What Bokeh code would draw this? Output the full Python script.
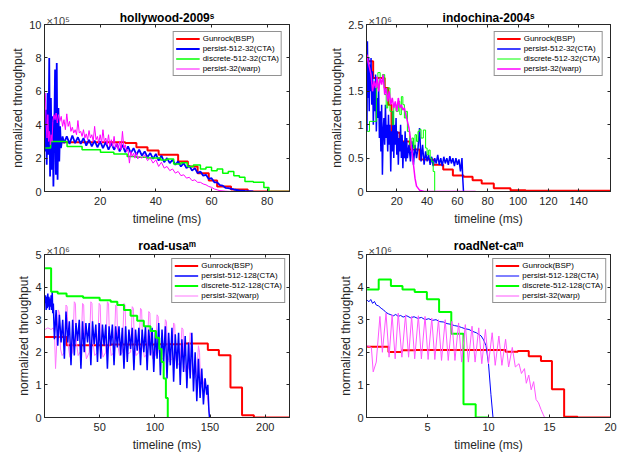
from bokeh.plotting import figure
from bokeh.models import Range1d, LinearAxis, Legend, LegendItem, Label
from bokeh.layouts import gridplot
from bokeh.embed import file_html
from bokeh.resources import INLINE

FONT = "Liberation Sans"
AX = "#262626"

# ---------------- hollywood-2009 (x1e5) ----------------
hw_xticks = [20, 40, 60, 80]
hw_yticks = [0, 2, 4, 6, 8, 10]
hw_ylabels = ["0", "2", "4", "6", "8", "10"]
hw_red_x = [0.3, 29, 33, 37, 41, 48, 51.5, 55, 59, 62, 67, 73, 88]
hw_red_y = [2.95, 2.9, 2.65, 2.45, 2.2, 1.8, 1.5, 1.1, 0.66, 0.3, 0.12, 0.0, 0.0]
hw_blue_x = [0.2, 0.5, 0.8, 1.1, 1.4, 1.7, 2.0, 2.3, 2.6, 2.9, 3.2, 3.5, 3.8, 4.1, 4.4, 4.7, 5.0, 5.3, 5.6, 5.9,
             6.5, 7, 8, 9, 10, 11, 12, 13, 14, 15, 16, 17, 18, 19, 20, 21, 22, 23, 24, 25, 26, 27, 28, 29, 30,
             31, 32, 33, 34, 35, 36, 37, 38, 39, 40, 41, 42, 43, 44, 45, 46, 47, 48, 49, 50, 51, 52, 53, 54, 55,
             56, 57, 58, 59, 60, 61, 62, 63, 64, 65, 66, 68, 70, 72, 75]
hw_blue_y = [2.4, 4.9, 1.6, 5.9, 2.2, 8.0, 0.9, 5.6, 1.3, 4.5, 0.3, 3.6, 7.3, 1.0, 7.7, 0.7, 5.0, 1.8, 3.9, 2.6,
             3.3, 2.9, 3.3, 2.85, 3.35, 2.9, 3.25, 2.85, 3.2, 2.75, 3.1, 2.7, 3.05, 2.65, 3.0, 2.6, 2.95, 2.5, 2.9,
             2.5, 2.85, 2.4, 2.8, 2.35, 2.7, 2.3, 2.6, 2.2, 2.5, 2.15, 2.4, 2.05, 2.3, 1.95, 2.25, 1.85, 2.15, 1.75,
             2.0, 1.7, 1.9, 1.6, 1.8, 1.5, 1.7, 1.4, 1.55, 1.25, 1.4, 1.1, 1.2, 0.95, 1.0, 0.75, 0.8, 0.55, 0.55,
             0.38, 0.35, 0.22, 0.2, 0.12, 0.06, 0.03, 0.0]
hw_green_x = [0.3, 2.2, 8.1, 13.5, 20.1, 24.9, 29.7, 33.0, 36.9, 41.7, 44.0, 46.4, 49.0, 51.3, 53.5, 56.0, 58.0,
              60.0, 62.0, 64.0, 66.0, 68.0, 70.0, 72.0, 75.0, 78.8, 80.6, 88.0]
hw_green_y = [2.6, 3.0, 2.7, 2.5, 2.35, 2.25, 2.1, 2.05, 2.0, 1.88, 1.95, 1.64, 1.72, 1.5, 1.58, 1.35, 1.45,
              1.25, 1.35, 1.1, 1.2, 0.95, 0.85, 0.6, 0.55, 0.24, 0.0, 0.0]
hw_mag_x = [0.3, 0.6, 0.9, 1.2, 1.5, 1.8, 2.1, 2.4, 2.7, 3.0, 3.4, 3.8, 4.2, 4.6, 5.0, 5.5, 6.0, 6.5, 7.0, 7.5,
            8.0, 8.5, 9.0, 9.5, 10, 10.5, 11, 11.5, 12, 12.5, 13, 13.5, 14, 14.5, 15, 15.5, 16, 16.5, 17, 17.5,
            18, 18.5, 19, 19.5, 20, 20.5, 21, 21.5, 22, 22.5, 23, 23.5, 24, 24.5, 25, 25.5, 26, 26.5, 27, 27.5,
            28, 28.5, 29, 29.5, 30, 30.5, 31, 31.5, 32, 32.5, 33, 33.5, 34, 35, 36, 37, 38, 39, 40, 41, 42, 43,
            44, 45, 46, 47, 48, 49, 50, 51, 52, 53, 54, 55, 56, 57, 58, 59, 60, 61, 62, 63, 65, 67]
hw_mag_y = [5.9, 4.0, 3.2, 4.6, 3.0, 3.6, 2.8, 3.4, 3.0, 4.2, 4.6, 4.3, 4.7, 4.1, 4.6, 4.2, 4.5, 3.9, 4.3, 3.7,
            4.65, 3.9, 4.2, 3.6, 3.85, 3.5, 3.7, 3.4, 4.25, 3.5, 3.6, 3.3, 3.7, 3.2, 3.45, 3.1, 3.65, 3.2, 3.4,
            3.0, 3.9, 3.1, 3.3, 2.9, 3.4, 2.9, 3.7, 2.95, 3.2, 2.8, 3.4, 2.7, 3.1, 2.7, 3.3, 2.6, 2.9, 2.5, 3.0,
            2.5, 3.6, 2.6, 2.8, 2.4, 2.5, 1.7, 2.4, 2.1, 2.3, 2.0, 2.35, 1.95, 2.1, 2.0, 2.2, 1.85, 2.0, 1.7, 1.9,
            1.5, 1.75, 1.4, 1.5, 1.25, 1.35, 1.1, 1.2, 0.95, 1.0, 0.8, 0.85, 0.65, 0.7, 0.55, 0.55, 0.45, 0.4,
            0.3, 0.25, 0.15, 0.1, 0.05, 0.02, 0.0]

# ---------------- indochina-2004 (x1e6) ----------------
ic_xticks = [20, 40, 60, 80, 100, 120, 140]
ic_yticks = [0, 0.5, 1, 1.5, 2, 2.5]
ic_ylabels = ["0", "0.5", "1", "1.5", "2", "2.5"]
ic_red_x = [0.5, 4.4, 12, 14.3, 16.5, 22, 28.6, 35, 44, 50.6, 57, 64, 70, 76, 84, 95, 105, 161]
ic_red_y = [1.95, 1.7, 1.55, 1.30, 0.88, 0.75, 0.63, 0.48, 0.40, 0.33, 0.24, 0.22, 0.17, 0.12, 0.05, 0.02,
            0.01, 0.01]
ic_blue_x = [0.3, 0.6, 1.0, 1.4, 1.8, 2.2, 2.6, 3.0, 3.5, 4.0, 4.5, 5.0, 5.5, 6.0, 6.5, 7.0, 7.5, 8.0, 8.5, 9.0,
             9.5, 10.0, 10.5, 11.0, 11.5, 12.0, 12.5, 13.0, 13.5, 14.0, 14.5, 15.0, 15.5, 16.0, 16.5, 17.0, 17.5,
             18.0, 18.5, 19.0, 19.5, 20.0, 20.5, 21.0, 21.5, 22.0, 22.5, 23.0, 23.5, 24.0, 24.5, 25.0, 25.5,
             26.0, 26.5, 27.0, 28, 29, 30, 31, 32, 33, 34, 35, 36, 37, 38, 39, 40, 41, 42, 43, 44, 45, 46, 47,
             48, 49, 50, 51, 52, 53, 54, 55, 56, 57, 58, 59, 60, 61, 62, 63, 63.5, 64]
ic_blue_y = [0.9, 2.25, 1.4, 2.0, 1.2, 1.9, 1.5, 2.0, 1.3, 1.8, 1.0, 1.6, 1.2, 1.75, 0.9, 1.4, 1.1, 1.6, 0.8, 1.2,
             0.6, 1.3, 0.25, 0.9, 1.1, 0.7, 1.3, 0.8, 1.0, 0.6, 1.15, 0.7, 1.0, 0.3, 0.9, 0.6, 1.2, 0.5, 1.0, 0.7,
             1.1, 0.55, 0.9, 0.4, 0.8, 0.6, 1.0, 0.5, 0.85, 0.35, 0.75, 0.5, 0.9, 0.45, 0.8, 0.5, 0.7, 0.45,
             0.75, 0.4, 0.7, 0.5, 0.65, 0.95, 0.45, 0.7, 0.4, 0.6, 0.45, 0.55, 0.4, 0.52, 0.38, 0.5, 0.42, 0.55,
             0.4, 0.5, 0.38, 0.52, 0.42, 0.5, 0.4, 0.53, 0.42, 0.5, 0.38, 0.5, 0.4, 0.48, 0.3, 0.5, 0.2, 0.0]
ic_green_x = [0.5, 2, 6.5, 7.5, 9, 10.5, 12, 13, 14, 15.5, 17, 18, 19.5, 21, 22, 23, 24, 25, 26, 27, 28.5, 30,
              31, 32, 33, 34, 35, 36, 37.5, 39, 40, 41, 42, 43, 44, 45]
ic_green_y = [0.9, 1.05, 1.55, 1.78, 1.65, 1.75, 1.45, 1.25, 1.55, 1.2, 1.0, 1.3, 1.2, 1.35, 1.15, 1.42, 1.3,
              1.1, 1.2, 0.9, 0.7, 0.8, 0.65, 0.85, 0.75, 0.9, 0.93, 0.8, 0.92, 0.65, 0.55, 0.62, 0.5, 0.45, 0.3,
              0.0]
ic_mag_x = [0.3, 1, 2, 3, 4, 5, 6, 7, 8, 9, 10, 11, 12, 13, 14, 15, 16, 17, 18, 19, 20, 21, 22, 23, 24, 25, 26,
            27, 28, 29, 30, 31, 32, 33, 35, 38, 45, 55, 65, 72]
ic_mag_y = [2.05, 1.95, 1.85, 1.75, 1.5, 1.65, 1.55, 1.72, 1.5, 1.7, 1.6, 1.75, 1.45, 1.55, 1.35, 1.5, 1.3, 1.4,
            1.25, 1.35, 1.2, 1.4, 1.25, 1.3, 1.22, 1.25, 1.15, 1.05, 0.95, 0.8, 0.6, 0.4, 0.2, 0.08, 0.02, 0.0,
            0.0, 0.0, 0.0, 0.0]

# ---------------- road-usa (x1e6) ----------------
ru_xticks = [50, 100, 150, 200]
ru_yticks = [0, 1, 2, 3, 4, 5]
ru_ylabels = ["0", "1", "2", "3", "4", "5"]
ru_red_x = [0.5, 20, 60, 100, 127, 148, 158, 168.5, 179, 189.7, 222]
ru_red_y = [2.47, 2.22, 2.24, 2.25, 2.27, 2.07, 1.91, 0.92, 0.07, 0.0, 0.0]
ru_green_x = [0.5, 5.4, 6, 12, 20, 35, 50, 60, 66, 72, 78, 84, 90, 96, 101, 104, 106, 108, 110, 111.7]
ru_green_y = [4.58, 4.58, 3.86, 3.8, 3.72, 3.67, 3.6, 3.55, 3.45, 3.3, 3.12, 2.97, 2.8, 2.65, 2.45, 2.1, 1.7,
              1.2, 0.6, 0.0]
ru_blue_x = [0.5, 1.0, 1.5, 2.0, 2.5, 3.0, 3.5, 4.0, 4.5, 5.0, 5.5, 6.0, 6.5, 7.0, 7.5, 8.0, 9, 10.5, 12, 13.5,
             15, 16.5, 18, 19.5, 21, 22.5, 24, 25.5, 27, 28.5, 30, 31.5, 33, 34.5, 36, 37.5, 39, 40.5, 42, 43.5,
             45, 46.5, 48, 49.5, 51, 52.5, 54, 55.5, 57, 58.5, 60, 61.5, 63, 64.5, 66, 67.5, 69, 70.5, 72, 73.5,
             75, 76.5, 78, 79.5, 81, 82.5, 84, 85.5, 87, 88.5, 90, 91.5, 93, 94.5, 96, 97.5, 99, 100.5, 102,
             103.5, 105, 106.5, 108, 109.5, 111, 112.5, 114, 115.5, 117, 118.5, 120, 121.5, 123, 124.5, 126,
             127.5, 129, 130.5, 132, 133.5, 135, 136.5, 138, 139.5, 141, 142.5, 144, 145.5, 147, 148, 149, 149.5]
ru_blue_y = [3.5, 3.75, 3.3, 3.7, 3.35, 3.8, 3.4, 3.7, 3.3, 3.65, 3.4, 3.75, 3.3, 3.85, 3.2, 3.5, 2.4, 3.3, 2.2,
             3.15, 2.3, 3.0, 1.8, 3.25, 2.3, 2.95, 1.6, 3.0, 1.9, 2.9, 2.35, 3.0, 1.5, 2.95, 2.0, 2.9, 2.3, 2.9,
             1.6, 2.95, 2.25, 2.85, 1.7, 2.9, 1.8, 2.85, 2.2, 2.85, 1.5, 2.8, 2.2, 2.85, 1.6, 2.8, 2.15, 2.8, 1.9,
             2.75, 1.5, 2.8, 1.7, 2.7, 2.1, 2.75, 1.45, 2.7, 2.05, 2.75, 1.6, 2.7, 2.0, 2.8, 1.45, 2.7, 1.9, 2.75,
             1.4, 2.65, 1.8, 2.9, 1.3, 2.7, 1.7, 2.8, 1.2, 2.6, 1.6, 2.75, 1.1, 2.55, 1.5, 2.6, 1.0, 2.4, 1.4,
             2.5, 0.9, 2.3, 1.2, 2.6, 0.8, 2.0, 0.5, 1.8, 0.6, 1.5, 0.4, 1.2, 0.7, 1.0, 0.2, 0.0]
ru_mag_x = [0.5, 3, 6, 8, 9, 10, 11, 12.5, 13.5, 14.5, 16, 18, 19.5, 20.5, 21.5, 23, 25.5, 27, 28, 29, 30.5, 33,
            34.5, 35.5, 36.5, 38, 40.5, 42, 43, 44, 45.5, 48, 49.5, 50.5, 51.5, 53, 55.5, 57, 58, 59, 60.5, 63,
            64.5, 65.5, 66.5, 68, 70.5, 72, 73, 74, 75.5, 78, 79.5, 80.5, 81.5, 83, 85.5, 87, 88, 89, 90.5, 93,
            94.5, 95.5, 96.5, 98, 100.5, 102, 103, 104, 105.5, 108, 109.5, 110.5, 111.5, 113, 115.5, 117, 118,
            119, 120.5, 123, 124.5, 125.5, 126.5, 128, 130.5, 132, 133, 134, 135.5, 138, 139.5, 140.5, 141.5,
            143, 145, 146.5, 148, 149.5, 150]
ru_mag_y = [2.7, 2.75, 2.7, 2.75, 2.6, 1.5, 2.2, 3.3, 3.2, 2.1, 1.9, 2.0, 3.45, 3.4, 2.2, 1.85, 2.0, 3.55, 3.5,
            2.3, 1.9, 2.05, 3.5, 3.45, 2.2, 1.8, 2.0, 3.55, 3.5, 2.3, 1.9, 2.0, 3.5, 3.45, 2.2, 1.85, 2.0, 3.55,
            3.5, 2.3, 1.9, 2.0, 3.45, 3.4, 2.2, 1.9, 2.0, 3.5, 3.45, 2.25, 1.95, 2.0, 3.4, 3.35, 2.2, 1.9, 2.0,
            3.35, 3.3, 2.2, 1.85, 1.95, 3.25, 3.2, 2.1, 1.8, 1.9, 3.15, 3.1, 2.0, 1.75, 1.85, 3.0, 2.95, 1.9, 1.7,
            1.8, 2.9, 2.85, 1.8, 1.6, 1.7, 2.75, 2.7, 1.6, 1.4, 1.5, 2.6, 2.5, 1.4, 1.2, 1.3, 2.2, 2.0, 1.0, 0.9,
            1.2, 0.9, 0.5, 0.1, 0.0]

# ---------------- roadNet-ca (x1e6) ----------------
rc_xticks = [5, 10, 15, 20]
rc_yticks = [0, 1, 2, 3, 4, 5]
rc_ylabels = ["0", "1", "2", "3", "4", "5"]
rc_red_x = [0.05, 1.8, 2.9, 4, 11.4, 12.4, 13.3, 14.3, 15.2, 16.2, 17.3, 20]
rc_red_y = [2.17, 2.01, 2.06, 2.07, 2.02, 2.04, 1.88, 1.73, 0.87, 0.02, 0.0, 0.0]
rc_green_x = [0.05, 1.0, 2.0, 2.95, 3.95, 4.95, 5.95, 6.95, 7.95, 8.95, 9.95]
rc_green_y = [3.93, 4.23, 4.03, 3.93, 3.85, 3.63, 3.24, 2.57, 0.41, 0.0, 0.0]
rc_blue_x = [0.05, 0.2, 0.35, 0.5, 0.65, 0.8, 1.0, 1.2, 1.4, 1.6, 1.8, 2.0, 2.2, 2.4, 2.6, 2.8, 3.0, 3.3, 3.6,
             3.9, 4.2, 4.5, 4.8, 5.1, 5.4, 5.7, 6.0, 6.3, 6.6, 6.9, 7.2, 7.5, 7.8, 8.1, 8.4, 8.7, 9.0, 9.2, 9.4,
             9.6, 9.8, 10.0, 10.2, 10.37]
rc_blue_y = [3.6, 3.55, 3.62, 3.5, 3.56, 3.45, 3.42, 3.35, 3.3, 3.22, 3.18, 3.15, 3.12, 3.16, 3.1, 3.13, 3.08,
             3.12, 3.06, 3.09, 3.04, 3.07, 3.0, 3.03, 2.98, 3.0, 2.94, 2.93, 2.88, 2.86, 2.82, 2.8, 2.76, 2.72,
             2.7, 2.64, 2.6, 2.55, 2.5, 2.38, 2.2, 1.65, 0.7, 0.0]
rc_mag_x = [0.05, 0.4, 0.55, 0.8, 1.1, 1.3, 1.6, 1.85, 2.1, 2.35, 2.6, 2.9, 3.2, 3.45, 3.7, 3.95, 4.25, 4.5, 4.8,
            5.05, 5.35, 5.6, 5.9, 6.15, 6.45, 6.7, 7.0, 7.25, 7.55, 7.8, 8.1, 8.35, 8.65, 8.9, 9.2, 9.45, 9.75,
            10.0, 10.3, 10.55, 10.85, 11.1, 11.4, 11.65, 11.95, 12.2, 12.5, 12.7, 12.95, 13.1, 13.3, 13.5, 13.7,
            13.9, 14.1, 14.3, 14.5, 14.6]
rc_mag_y = [2.2, 2.15, 1.4, 1.7, 3.1, 2.0, 3.2, 1.85, 3.15, 1.8, 3.2, 1.85, 3.15, 1.85, 3.1, 1.8, 3.12, 1.8, 3.1,
            1.78, 3.05, 1.78, 3.0, 1.75, 3.0, 1.75, 2.95, 1.75, 2.9, 1.7, 2.85, 1.7, 2.8, 1.7, 2.75, 1.65, 2.7,
            1.65, 2.6, 1.6, 2.5, 1.6, 2.4, 1.55, 2.15, 1.55, 1.65, 1.35, 1.5, 1.05, 1.3, 0.85, 1.1, 0.55, 0.45,
            0.25, 0.08, 0.0]


def make_fig(title, xr, yr, w, h, bl, br, bt, bb, xticks, yticks, ylabels, exp_text, t_standoff):
    p = figure(width=w, height=h, x_range=Range1d(*xr), y_range=Range1d(*yr),
               output_backend="svg", toolbar_location=None,
               min_border_left=bl, min_border_right=br, min_border_top=bt, min_border_bottom=bb)
    p.title.text = title
    p.title.align = "center"
    p.title.text_font = FONT
    p.title.text_font_size = "12px"
    p.title.text_font_style = "bold"
    p.title.text_color = "#000000"
    p.title.standoff = t_standoff
    p.xgrid.visible = False
    p.ygrid.visible = False
    p.outline_line_color = AX
    p.background_fill_color = "white"
    p.border_fill_color = "white"
    p.xaxis.ticker = xticks
    p.yaxis.ticker = yticks
    p.yaxis.major_label_overrides = {t: l for t, l in zip(yticks, ylabels)}
    p.xaxis.axis_label = "timeline (ms)"
    p.yaxis.axis_label = "normalized throughput"
    for ax in (p.xaxis[0], p.yaxis[0]):
        ax.axis_line_color = AX
        ax.major_tick_line_color = AX
        ax.major_tick_in = 3
        ax.major_tick_out = 0
        ax.minor_tick_line_color = None
        ax.major_label_text_font = FONT
        ax.major_label_text_font_size = "11px"
        ax.major_label_text_color = AX
        ax.axis_label_text_font = FONT
        ax.axis_label_text_font_size = "12px"
        ax.axis_label_text_font_style = "normal"
        ax.axis_label_text_color = AX
    p.xaxis.major_label_standoff = 5
    p.xaxis.axis_label_standoff = 4
    p.yaxis.major_label_standoff = 3
    p.yaxis.axis_label_standoff = 1
    for loc, tk in (("above", xticks), ("right", yticks)):
        ax = LinearAxis(ticker=tk, major_label_text_font_size="0px", major_label_standoff=0,
                        major_tick_in=3, major_tick_out=0, minor_tick_line_color=None,
                        axis_line_color=AX, major_tick_line_color=AX)
        p.add_layout(ax, loc)
    lab = Label(x=xr[0], y=yr[1], text=exp_text, text_font=FONT, text_font_size="11px",
                text_color="#404040", text_baseline="alphabetic", text_align="left", x_offset=2, y_offset=4)
    p.add_layout(lab, "above")
    return p


def add_legend(p, items, margin):
    lg = Legend(items=[LegendItem(label=l, renderers=[r]) for l, r in items], location="top_right")
    lg.label_text_font = FONT
    lg.label_text_font_size = "8px"
    lg.label_text_color = "#000000"
    lg.glyph_width = 24
    lg.glyph_height = 9
    lg.label_height = 9
    lg.label_standoff = 3
    lg.spacing = 1
    lg.padding = 2
    lg.margin = margin
    lg.border_line_color = AX
    lg.border_line_width = 1
    lg.background_fill_alpha = 1
    p.add_layout(lg)


p1 = make_fig("hollywood-2009ˢ", (0, 88), (0, 10), 322, 228, 44, 33, 24, 37, hw_xticks, hw_yticks, hw_ylabels,
              "×10⁵", -25)
r1 = p1.step(hw_red_x, hw_red_y, mode="after", line_color="#ff0000", line_width=2)
b1 = p1.line(hw_blue_x, hw_blue_y, line_color="#0000ff", line_width=1.8)
g1 = p1.step(hw_green_x, hw_green_y, mode="after", line_color="#00ff00", line_width=1.5)
m1 = p1.line(hw_mag_x, hw_mag_y, line_color="#ff00ff", line_width=1)
add_legend(p1, [("Gunrock(BSP)", r1), ("persist-512-32(CTA)", b1), ("discrete-512-32(CTA)", g1),
                ("persist-32(warp)", m1)], 7)

p2 = make_fig("indochina-2004ˢ", (0, 161), (0, 2.5), 303, 228, 44, 15, 24, 37, ic_xticks, ic_yticks, ic_ylabels,
              "×10⁶", -25)
r2 = p2.step(ic_red_x, ic_red_y, mode="after", line_color="#ff0000", line_width=2)
b2 = p2.line(ic_blue_x, ic_blue_y, line_color="#0000ff", line_width=1.5)
g2 = p2.step(ic_green_x, ic_green_y, mode="after", line_color="#00ff00", line_width=1)
m2 = p2.line(ic_mag_x, ic_mag_y, line_color="#ff00ff", line_width=1.5)
add_legend(p2, [("Gunrock(BSP)", r2), ("persist-512-32(CTA)", b2), ("discrete-512-32(CTA)", g2),
                ("persist-32(warp)", m2)], 7)

p3 = make_fig("road-usaᵐ", (0, 222), (0, 5), 322, 226, 44, 33, 26, 37, ru_xticks, ru_yticks, ru_ylabels, "×10⁶",
              -21)
r3 = p3.step(ru_red_x, ru_red_y, mode="after", line_color="#ff0000", line_width=2)
m3 = p3.line(ru_mag_x, ru_mag_y, line_color="#ff77ff", line_width=1)
b3 = p3.line(ru_blue_x, ru_blue_y, line_color="#0000ff", line_width=1.5)
g3 = p3.step(ru_green_x, ru_green_y, mode="after", line_color="#00ff00", line_width=2)
add_legend(p3, [("Gunrock(BSP)", r3), ("persist-512-128(CTA)", b3), ("discrete-512-128(CTA)", g3),
                ("persist-32(warp)", m3)], 4)

p4 = make_fig("roadNet-caᵐ", (0, 20), (0, 5), 303, 226, 44, 15, 26, 37, rc_xticks, rc_yticks, rc_ylabels, "×10⁶",
              -21)
r4 = p4.step(rc_red_x, rc_red_y, mode="after", line_color="#ff0000", line_width=2)
b4 = p4.line(rc_blue_x, rc_blue_y, line_color="#0000ff", line_width=1)
g4 = p4.step(rc_green_x, rc_green_y, mode="after", line_color="#00ff00", line_width=2)
m4 = p4.line(rc_mag_x, rc_mag_y, line_color="#ff55ff", line_width=1)
add_legend(p4, [("Gunrock(BSP)", r4), ("persist-512-128(CTA)", b4), ("discrete-512-128(CTA)", g4),
                ("persist-32(warp)", m4)], 4)

grid = gridplot([[p1, p2], [p3, p4]], toolbar_location=None)
open("out.html", "w").write(file_html(grid, INLINE))
